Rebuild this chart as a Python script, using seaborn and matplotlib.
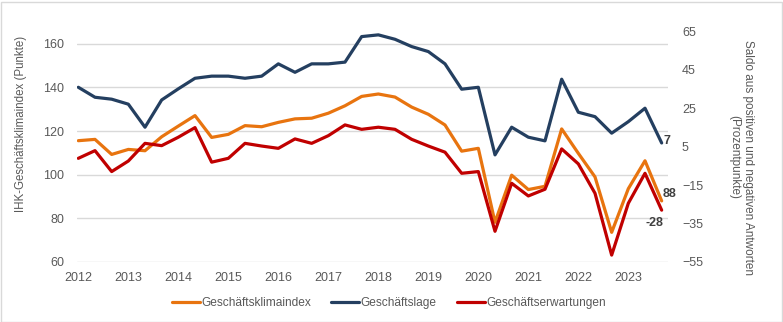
import matplotlib
matplotlib.use("Agg")
import matplotlib.pyplot as plt
import seaborn as sns
import pandas as pd
import numpy as np
from matplotlib.lines import Line2D
from matplotlib.patches import Rectangle

# three surveys per year, 2012-2023
years = list(range(2012, 2024))
periods = [f"{y}-{k}" for y in years for k in (1, 2, 3)]

klima = [115.6, 116.2, 109.3, 111.6, 111.0, 117.4, 122.3, 127.1, 117.1, 118.5, 122.5, 122.0,
         124.0, 125.6, 125.9, 128.2, 131.6, 135.9, 137.0, 135.6, 131.0, 127.7, 122.8, 110.8,
         112.1, 78.2, 99.8, 93.2, 94.7, 121.0, 109.8, 99.0, 73.6, 93.6, 106.4, 88.0]
lage = [36.0, 30.8, 29.8, 27.2, 15.2, 29.4, 35.2, 40.7, 41.8, 41.8, 40.7, 41.8,
        48.2, 43.8, 48.2, 48.2, 49.1, 62.4, 63.3, 61.0, 57.2, 54.6, 48.2, 35.0,
        36.0, 0.8, 15.2, 10.0, 8.1, 40.2, 23.0, 20.7, 12.1, 18.1, 25.1, 7.0]
erwart = [-1.0, 3.0, -7.9, -2.4, 6.8, 5.6, 10.0, 15.0, -3.0, -1.0, 6.8, 5.4,
          4.2, 9.1, 6.8, 10.8, 16.4, 14.1, 15.2, 14.1, 8.9, 5.4, 2.2, -8.8,
          -7.9, -39.0, -14.0, -20.6, -17.1, 3.9, -3.9, -19.2, -51.4, -24.4, -8.8, -28.0]

series_names = ["Geschäftsklimaindex", "Geschäftslage", "Geschäftserwartungen"]
colors = ["#E8740F", "#243F60", "#C00000"]
end_labels = ["88", "7", "-28"]
left_ticks = [60, 80, 100, 120, 140, 160]
right_ticks = [-55, -35, -15, 5, 25, 45, 65]

df = pd.DataFrame({"idx": np.arange(len(periods)), "klima": klima, "lage": lage, "erwart": erwart})

sns.set_style("white")
plt.rcParams["font.family"] = ["Liberation Sans", "DejaVu Sans"]
txt = "#595959"
W, H = 783, 322

fig = plt.figure(figsize=(W/100, H/100), dpi=100)
ax = fig.add_axes([77/W, 1-262/H, (668-77)/W, (262-22)/H])
ax2 = ax.twinx()

sns.lineplot(data=df, x="idx", y="klima", ax=ax, color=colors[0], lw=2.3, zorder=3)
sns.lineplot(data=df, x="idx", y="lage", ax=ax2, color=colors[1], lw=2.3)
sns.lineplot(data=df, x="idx", y="erwart", ax=ax2, color=colors[2], lw=2.3)

ax.set_ylim(60, 170)
ax2.set_ylim(-55, 70)
ax.set_xlim(-0.08, 35.38)
ax.set_yticks(left_ticks)
ax2.set_yticks(right_ticks)
ax.set_xticks(np.arange(0, 36, 3))
ax.set_xticklabels([str(y) for y in years])

ax.grid(axis="y", color="#D9D9D9", lw=1)
ax.grid(axis="x", visible=False)
ax2.grid(False)
ax.set_axisbelow(True)
for a in (ax, ax2):
    for s in a.spines.values():
        s.set_visible(False)
    a.tick_params(length=0, labelsize=9, colors=txt)
ax.tick_params(axis="x", pad=7)
ax.tick_params(axis="y", pad=9)
ax2.tick_params(axis="y", pad=10)

ax.set_xlabel("")
ax.set_ylabel("")
ax2.set_ylabel("")
fig.text(21/W, 1-124/H, "IHK-Geschäftsklimaindex (Punkte)", rotation=90, fontsize=8.3,
         color=txt, ha="center", va="center")
fig.text(741/W, 1-157/H, "Saldo aus positiven und negativen Antworten\n(Prozentpunkte)",
         rotation=-90, fontsize=8.5, color=txt, ha="center", va="center", linespacing=1.15,
         multialignment="center")

# end labels
ax.annotate(end_labels[0], (35, klima[-1]), xytext=(0.5, 5), textcoords="offset points",
            fontsize=9, fontweight="bold", color="#404040", va="center", ha="left")
ax2.annotate(end_labels[1], (35, lage[-1]), xytext=(1.5, 1.5), textcoords="offset points",
             fontsize=9, fontweight="bold", color="#404040", va="center", ha="left")
ax2.annotate(end_labels[2], (35, erwart[-1]), xytext=(-5, -9), textcoords="offset points",
             fontsize=9, fontweight="bold", color="#404040", va="center", ha="center")

handles = [Line2D([0], [0], color=c, lw=2.3) for c in colors]
fig.legend(handles, series_names, loc="center", bbox_to_anchor=(389/W, 1-303/H), ncol=3,
           frameon=False, fontsize=8.6, handlelength=2.3, handletextpad=0.15, columnspacing=1.7,
           labelcolor=txt)

fig.patches.append(Rectangle((0.5/W, 0.5/H), 781/W, 320/H, transform=fig.transFigure,
                             fill=False, edgecolor="#D9D9D9", lw=1))

fig.savefig("out.png", dpi=100)
